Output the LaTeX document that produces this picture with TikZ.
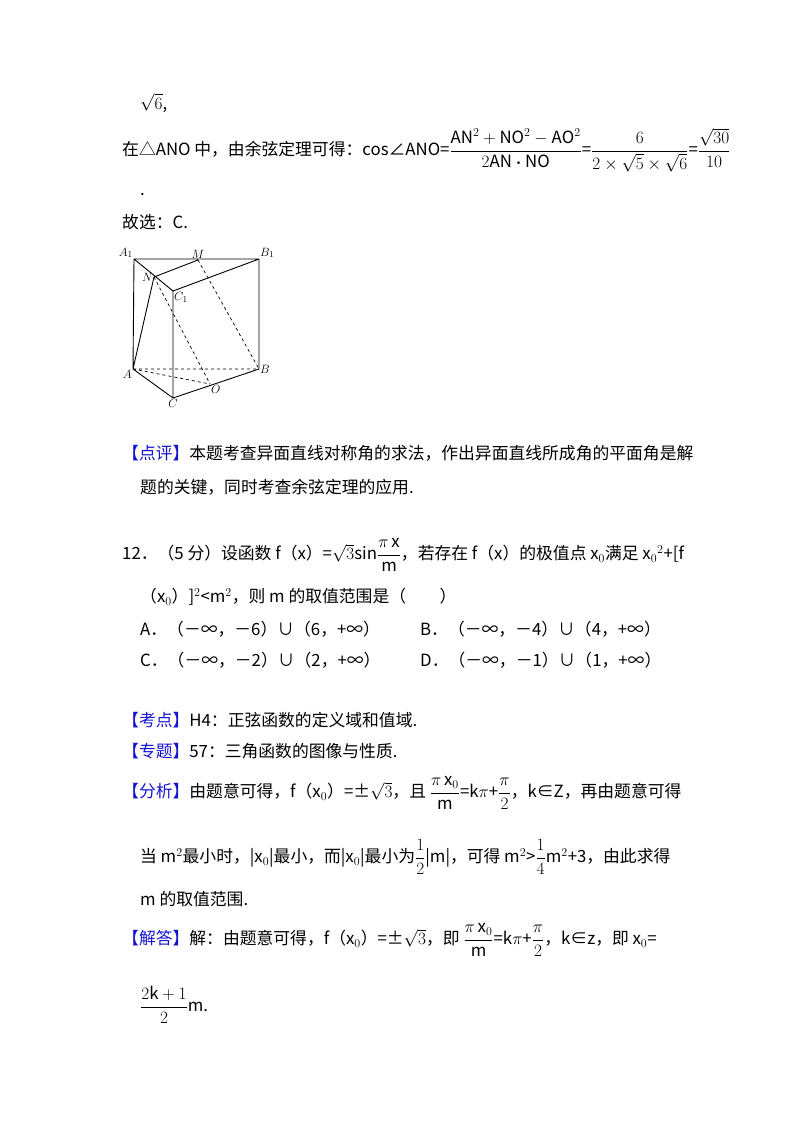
\documentclass[tikz,border=0pt]{standalone}
\usepackage{fontspec}
\setmainfont{Noto Sans CJK SC}
\usepackage{amsmath,amssymb}
\definecolor{tagblue}{RGB}{20,20,210}
\newcommand{\tagb}[1]{\textcolor{tagblue}{【#1】}}
\begin{document}
\begin{tikzpicture}[x=1pt,y=-1pt,
  txt/.style={anchor=west,inner sep=0pt,font=\fontsize{16.8}{19}\selectfont},
  lbl/.style={inner sep=1pt,font=\fontsize{13}{15}\selectfont\itshape\rmfamily},
  edge/.style={line width=0.9pt},
  hid/.style={line width=0.7pt,dashed}]
\useasboundingbox[fill=white] (0,0) rectangle (800,1133);
\node[txt] (t1) at (140,103) {$\sqrt{6}$,};
\node[txt] (t2) at (122,150) {在△ANO 中，由余弦定理可得：cos∠ANO=$\dfrac{\mathrm{AN}^2+\mathrm{NO}^2-\mathrm{AO}^2}{2\mathrm{AN}\boldsymbol{\cdot}\mathrm{NO}}$=$\dfrac{6}{2\times\sqrt5\times\sqrt6}$=$\dfrac{\sqrt{30}}{10}$};
\node[txt] (t3) at (140,195) {.};
\node[txt] (t4) at (122,222) {故选：C.};
% figure
\coordinate (A1) at (134,259); \coordinate (M) at (198,260); \coordinate (B1) at (259,259);
\coordinate (N) at (154,277); \coordinate (C1) at (173,291);
\coordinate (A) at (133,369); \coordinate (B) at (259,369); \coordinate (C) at (173,398);
\coordinate (O) at (210,384);
\draw[edge] (A1)--(B1) (A1)--(C1)--(B1) (N)--(M) (A1)--(A) (B1)--(B) (C1)--(C) (A)--(N) (A)--(C)--(B);
\draw[hid] (A)--(B) (A)--(O) (N)--(O) (M)--(B);
\node[lbl,above left] at (A1) {$A_1$};
\node[lbl,above] at (M) {$M$};
\node[lbl,above right] at (B1) {$B_1$};
\node[lbl,left] at (N) {$N$};
\node[lbl,below right] at (C1) {$C_1$};
\node[lbl,below left] at (A) {$A$};
\node[lbl,right] at (B) {$B$};
\node[lbl,below] at (C) {$C$};
\node[lbl,below right] at (O) {$O$};
% comment
\node[txt] (p1) at (122,453) {\tagb{点评}本题考查异面直线对称角的求法，作出异面直线所成角的平面角是解};
\node[txt] (p2) at (140,487) {题的关键，同时考查余弦定理的应用.};
\node[txt] (q1) at (122,555) {12．（5 分）设函数 f（x）=$\sqrt3$sin$\dfrac{\pi\,\mathrm{x}}{\mathrm{m}}$，若存在 f（x）的极值点 x$_0$满足 x$_0{}^2$+[f};
\node[txt] (q2) at (140,597) {（x$_0$）]$^2$<m$^2$，则 m 的取值范围是（\qquad ）};
\node[txt] (oa) at (140,629) {A．（－∞，－6）∪（6，+∞）};
\node[txt] (ob) at (420,629) {B．（－∞，－4）∪（4，+∞）};
\node[txt] (oc) at (140,660) {C．（－∞，－2）∪（2，+∞）};
\node[txt] (od) at (420,660) {D．（－∞，－1）∪（1，+∞）};
\node[txt] (k1) at (122,720) {\tagb{考点}H4：正弦函数的定义域和值域.};
\node[txt] (k2) at (122,751) {\tagb{专题}57：三角函数的图像与性质.};
\node[txt] (f1) at (122,793) {\tagb{分析}由题意可得，f（x$_0$）=±$\sqrt3$，且 $\dfrac{\pi\,\mathrm{x}_0}{\mathrm{m}}$=k$\pi$+$\dfrac{\pi}{2}$，k∈Z，再由题意可得};
\node[txt] (f2) at (140,857) {当 m$^2$最小时，|x$_0$|最小，而|x$_0$|最小为$\dfrac12$|m|，可得 m$^2$>$\dfrac14$m$^2$+3，由此求得};
\node[txt] (f3) at (140,899) {m 的取值范围.};
\node[txt] (s1) at (122,940) {\tagb{解答}解：由题意可得，f（x$_0$）=±$\sqrt3$，即 $\dfrac{\pi\,\mathrm{x}_0}{\mathrm{m}}$=k$\pi$+$\dfrac{\pi}{2}$，k∈z，即 x$_0$=};
\node[txt] (s2) at (140,1005) {$\dfrac{2\mathrm{k}+1}{2}$m.};
\end{tikzpicture}
\end{document}
